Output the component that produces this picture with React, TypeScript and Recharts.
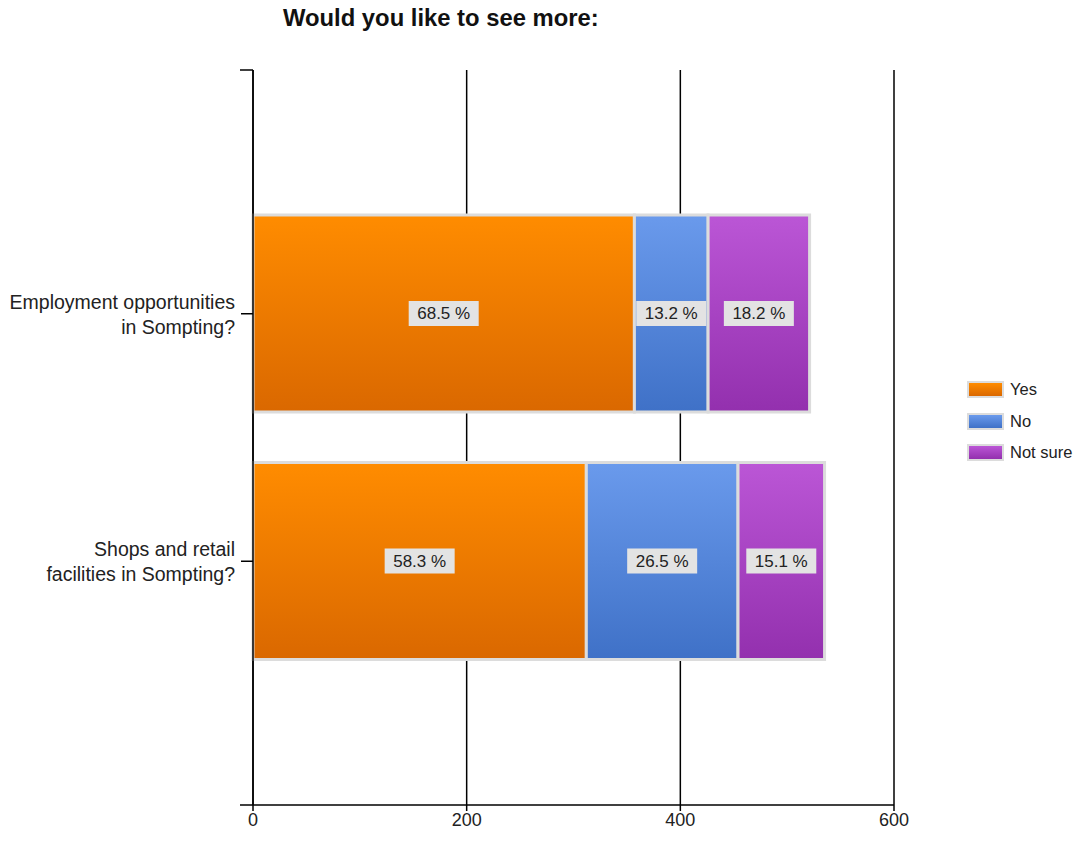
import React from 'react';
import { BarChart, Bar, XAxis, YAxis, CartesianGrid, Legend, LabelList, Customized } from 'recharts';

const categories = ['Employment opportunities\nin Sompting?', 'Shops and retail\nfacilities in Sompting?'];
const yesValues = [357, 312];
const noValues = [69, 142];
const notSureValues = [95, 81];
const seriesNames = ['Yes', 'No', 'Not sure'];
const seriesKeys = ['yes', 'no', 'notSure'];
const xTicks = [0, 200, 400, 600];

// top / bottom colours of each series gradient
const gradTop = ['#ff8c00', '#6a9aec', '#bb56d6'];
const gradBottom = ['#da6800', '#3f71c7', '#9330ae'];

const FONT = '"Liberation Sans", Arial, sans-serif';
const W = 1080;
const H = 841;
const M = { top: 70, right: 186, bottom: 0, left: 0 };
const Y_AXIS_W = 253;
const X_AXIS_H = 36;

const data = categories.map((name, i) => ({
  name,
  yes: yesValues[i],
  no: noValues[i],
  notSure: notSureValues[i],
}));
const totals = data.map((d) => d.yes + d.no + d.notSure);

const YTick = (props: any) => {
  const { x, y, payload } = props;
  const lines = String(payload.value).split('\n');
  return (
    <text x={x - 4} y={y} textAnchor="end" fontSize={19.5} fontFamily={FONT} fill="#222">
      {lines.map((l, i) => (
        <tspan key={i} x={x - 4} dy={i === 0 ? -5 : 25}>
          {l}
        </tspan>
      ))}
    </text>
  );
};

const PctLabel = (props: any) => {
  const { x, y, width, height, value, index } = props;
  const cx = x + width / 2;
  const cy = y + height / 2;
  const pct = ((value / totals[index]) * 100).toFixed(1) + ' %';
  return (
    <g>
      <rect x={cx - 35} y={cy - 12.5} width={70} height={25} fill="#e3e3e3" />
      <text x={cx} y={cy} textAnchor="middle" dominantBaseline="central" fontSize={17} fontFamily={FONT} fill="#222">
        {pct}
      </text>
    </g>
  );
};

// small end ticks on the value axis frame (top and bottom of the y axis)
const AxisEnds = () => {
  const x = M.left + Y_AXIS_W;
  const yTop = M.top;
  const yBot = H - M.bottom - X_AXIS_H;
  return (
    <g stroke="#000" strokeWidth={1.5}>
      <line x1={x - 13} y1={yTop} x2={x} y2={yTop} />
      <line x1={x - 13} y1={yBot} x2={x} y2={yBot} />
    </g>
  );
};

const LegendBox = () => (
  <div style={{ fontFamily: FONT, fontSize: 16.5, color: '#222' }}>
    {seriesNames.map((n, i) => (
      <div key={n} style={{ display: 'flex', alignItems: 'center', height: 31.5 }}>
        <div
          style={{
            width: 33,
            height: 13,
            border: '2.5px solid #dcdcdc',
            background: `linear-gradient(${gradTop[i]}, ${gradBottom[i]})`,
            marginRight: 6,
          }}
        />
        <span>{n}</span>
      </div>
    ))}
  </div>
);

export default function App() {
  return (
    <div style={{ position: 'absolute', left: 0, top: 0, width: W, height: H, background: '#fff' }}>
      <svg width={0} height={0} style={{ position: 'absolute' }}>
        <defs>
          {seriesKeys.map((k, i) => (
            <linearGradient key={k} id={`grad-${k}`} x1="0" y1="0" x2="0" y2="1">
              <stop offset="0%" stopColor={gradTop[i]} />
              <stop offset="100%" stopColor={gradBottom[i]} />
            </linearGradient>
          ))}
        </defs>
      </svg>
      <div
        style={{
          position: 'absolute',
          left: 283,
          top: 4,
          fontFamily: FONT,
          fontWeight: 'bold',
          fontSize: 23.8,
          color: '#111',
          zIndex: 2,
        }}
      >
        Would you like to see more:
      </div>
      <BarChart width={W} height={H} data={data} layout="vertical" margin={M}>
        <CartesianGrid horizontal={false} stroke="#000" strokeWidth={1.5} />
        <XAxis
          type="number"
          domain={[0, 600]}
          ticks={xTicks}
          height={X_AXIS_H}
          tickSize={6}
          axisLine={{ stroke: '#000', strokeWidth: 1.5 }}
          tickLine={{ stroke: '#000', strokeWidth: 1.5 }}
          tick={{ fontSize: 18, fontFamily: FONT, fill: '#222' }}
        />
        <YAxis
          type="category"
          dataKey="name"
          width={Y_AXIS_W}
          tickSize={12}
          padding={{ top: 120, bottom: 120 }}
          axisLine={{ stroke: '#000', strokeWidth: 1.5 }}
          tickLine={{ stroke: '#000', strokeWidth: 1.5 }}
          tick={<YTick />}
        />
        {seriesKeys.map((k, i) => (
          <Bar
            key={k}
            dataKey={k}
            name={seriesNames[i]}
            stackId="a"
            barSize={197}
            fill={`url(#grad-${k})`}
            stroke="#dcdcdc"
            strokeWidth={3}
            isAnimationActive={false}
          >
            <LabelList dataKey={k} content={<PctLabel />} />
          </Bar>
        ))}
        <Customized component={<AxisEnds />} />
        <Legend
          layout="vertical"
          align="center"
          verticalAlign="middle"
          content={<LegendBox />}
          wrapperStyle={{ left: 967, top: 374, width: 'auto', height: 'auto' }}
        />
      </BarChart>
    </div>
  );
}
